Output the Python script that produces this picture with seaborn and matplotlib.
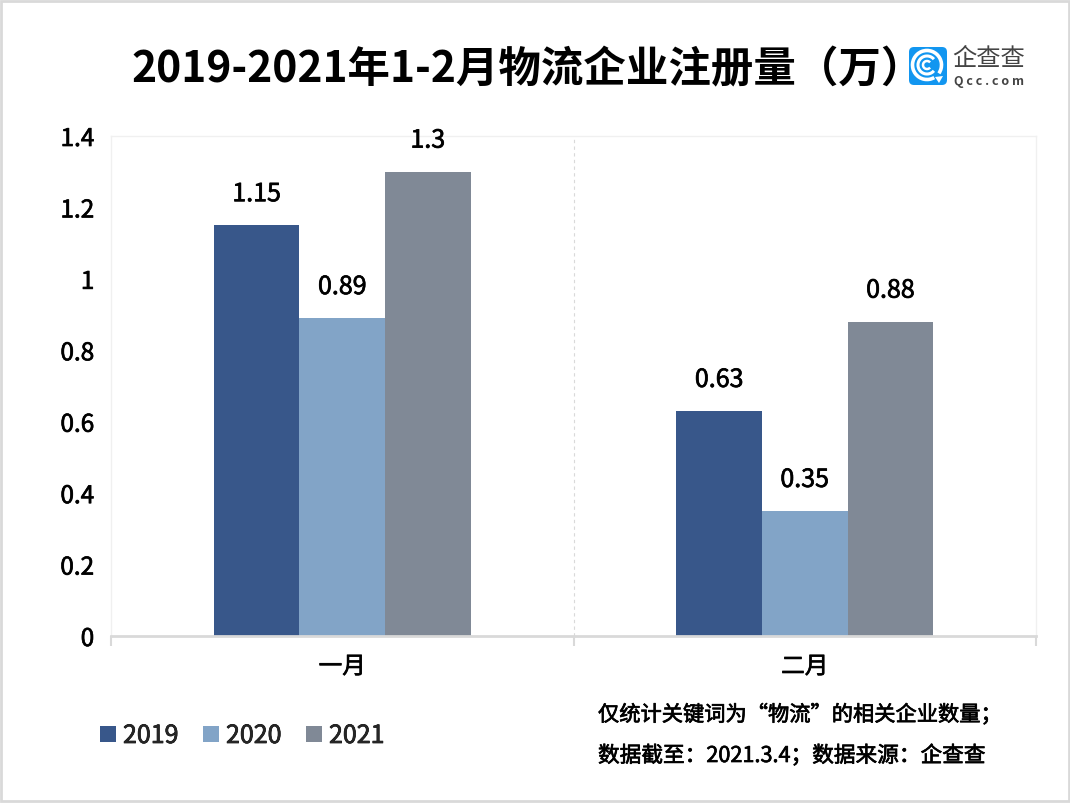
import numpy as np
import pandas as pd
import matplotlib
matplotlib.use("Agg")
import matplotlib.pyplot as plt
import matplotlib.patheffects as pe
import seaborn as sns
from matplotlib.patches import Rectangle, FancyBboxPatch, Arc, Patch, Polygon

# ── Data ──────────────────────────────────────────────────────────────────────
MONTHS = ["一月", "二月"]
YEARS = ["2019", "2020", "2021"]
VALUES_2019 = [1.15, 0.63]
VALUES_2020 = [0.89, 0.35]
VALUES_2021 = [1.3, 0.88]
LABELS_2019 = ["1.15", "0.63"]
LABELS_2020 = ["0.89", "0.35"]
LABELS_2021 = ["1.3", "0.88"]
Y_TICKS = [0, 0.2, 0.4, 0.6, 0.8, 1, 1.2, 1.4]
Y_TICK_LABELS = ["0", "0.2", "0.4", "0.6", "0.8", "1", "1.2", "1.4"]

TITLE = "2019-2021年1-2月物流企业注册量（万）"
NOTE_1 = "仅统计关键词为“物流”的相关企业数量；"
NOTE_2 = "数据截至：2021.3.4；数据来源：企查查"

# ── Style ─────────────────────────────────────────────────────────────────────
W, H = 1070, 804
COLORS = ["#38578a", "#82a4c7", "#808996"]
GREY = "#d9d9d9"
LIGHT = "#f0f0f0"
LOGO_BLUE = "#1296f0"
# the regular CJK face is a bit thin against the reference, thicken it slightly
MEDIUM = [pe.withStroke(linewidth=0.5, foreground="black")]

sns.set_theme(style="white")
plt.rcParams["font.family"] = ["Noto Sans CJK SC", "DejaVu Sans"]


def px_rect(left, top, right, bottom):
    return [left / W, 1 - bottom / H, (right - left) / W, (bottom - top) / H]


df = pd.DataFrame({
    "month": MONTHS * 3,
    "year": [y for y in YEARS for _ in MONTHS],
    "value": VALUES_2019 + VALUES_2020 + VALUES_2021,
})

fig = plt.figure(figsize=(W / 100, H / 100), dpi=100)
fig.patch.set_facecolor("white")
fig.add_artist(Rectangle((0.001, 0.002), 0.998, 0.996, transform=fig.transFigure,
                         fill=False, edgecolor=GREY, linewidth=2))

ax = fig.add_axes(px_rect(111, 137, 1036, 637))
sns.barplot(data=df, x="month", y="value", hue="year", hue_order=YEARS,
            palette=COLORS, width=0.555, gap=0, saturation=1, linewidth=0,
            order=MONTHS, legend=False, ax=ax)

ax.set_xlim(-0.5, 1.5)
ax.set_ylim(0, 1.4)
ax.set_xlabel("")
ax.set_ylabel("")
ax.set_yticks(Y_TICKS, Y_TICK_LABELS)
ax.tick_params(axis="y", length=0, labelsize=17.5, pad=12, labelcolor="black")
ax.tick_params(axis="x", which="major", length=0, labelsize=17, pad=14, labelcolor="black")
ax.set_xticks([-0.5, 0.5, 1.5], minor=True)
ax.tick_params(axis="x", which="minor", bottom=True, length=7, width=1.5, color=GREY)
for lab in ax.get_xticklabels() + ax.get_yticklabels():
    lab.set_path_effects(MEDIUM)

for side in ["top", "left", "right"]:
    ax.spines[side].set_color(LIGHT)
    ax.spines[side].set_linewidth(1)
ax.spines["bottom"].set_color(GREY)
ax.spines["bottom"].set_linewidth(2)
ax.axvline(0.5, color=GREY, linestyle=(0, (3, 3)), linewidth=0.8, zorder=0)

# value labels
for bars, labels in zip(ax.containers, [LABELS_2019, LABELS_2020, LABELS_2021]):
    texts = ax.bar_label(bars, labels=labels, padding=13, fontsize=18,
                         color="black", clip_on=False)
    for t in texts:
        t.set_path_effects(MEDIUM)

# title and notes
fig.text(131 / W, 1 - 69 / H, TITLE, fontsize=30.6, fontweight="bold",
         color="black", ha="left", va="center")
fig.text(598 / W, 1 - 716 / H, NOTE_1, fontsize=15.3, color="black", ha="left",
         va="center", path_effects=MEDIUM)
fig.text(598 / W, 1 - 757 / H, NOTE_2, fontsize=15.6, color="black", ha="left",
         va="center", path_effects=MEDIUM)

# legend
handles = [Patch(facecolor=c, edgecolor="none", label=y) for c, y in zip(COLORS, YEARS)]
leg = fig.legend(handles=handles, loc="center left", bbox_to_anchor=(92 / W, 1 - 737 / H),
                 ncol=3, frameon=False, fontsize=18, handlelength=0.64, handleheight=0.64,
                 handletextpad=0.3, columnspacing=0.96, borderaxespad=0, borderpad=0.3)
for t in leg.get_texts():
    t.set_path_effects(MEDIUM)

# logo mark
logo = fig.add_axes(px_rect(907, 46, 949, 88))
logo.set_xlim(0, 42)
logo.set_ylim(42, 0)
logo.axis("off")
logo.add_patch(FancyBboxPatch((2, 2), 38, 38, boxstyle="round,pad=0,rounding_size=5",
                              facecolor=LOGO_BLUE, edgecolor="none"))
logo.add_patch(Arc((20, 20), 29, 29, theta1=60, theta2=395, color="white", linewidth=2.6))
logo.add_patch(Arc((20, 20), 18, 18, theta1=40, theta2=320, color="white", linewidth=2.2))
logo.add_patch(Arc((20, 20), 8, 8, theta1=40, theta2=320, color="white", linewidth=1.8))
logo.add_patch(Polygon([[28, 32], [36, 31], [32, 38]], closed=True, facecolor="white", edgecolor="none"))

fig.text(989 / W, 1 - 59 / H, "企查查", fontsize=17.5, color="#444444",
         ha="center", va="center", fontweight="light")
fig.text(989 / W, 1 - 81 / H, "Q c c . c o m", fontsize=9, color="#444444",
         ha="center", va="center", fontweight="bold")

fig.savefig("out.png", dpi=100, facecolor="white")
